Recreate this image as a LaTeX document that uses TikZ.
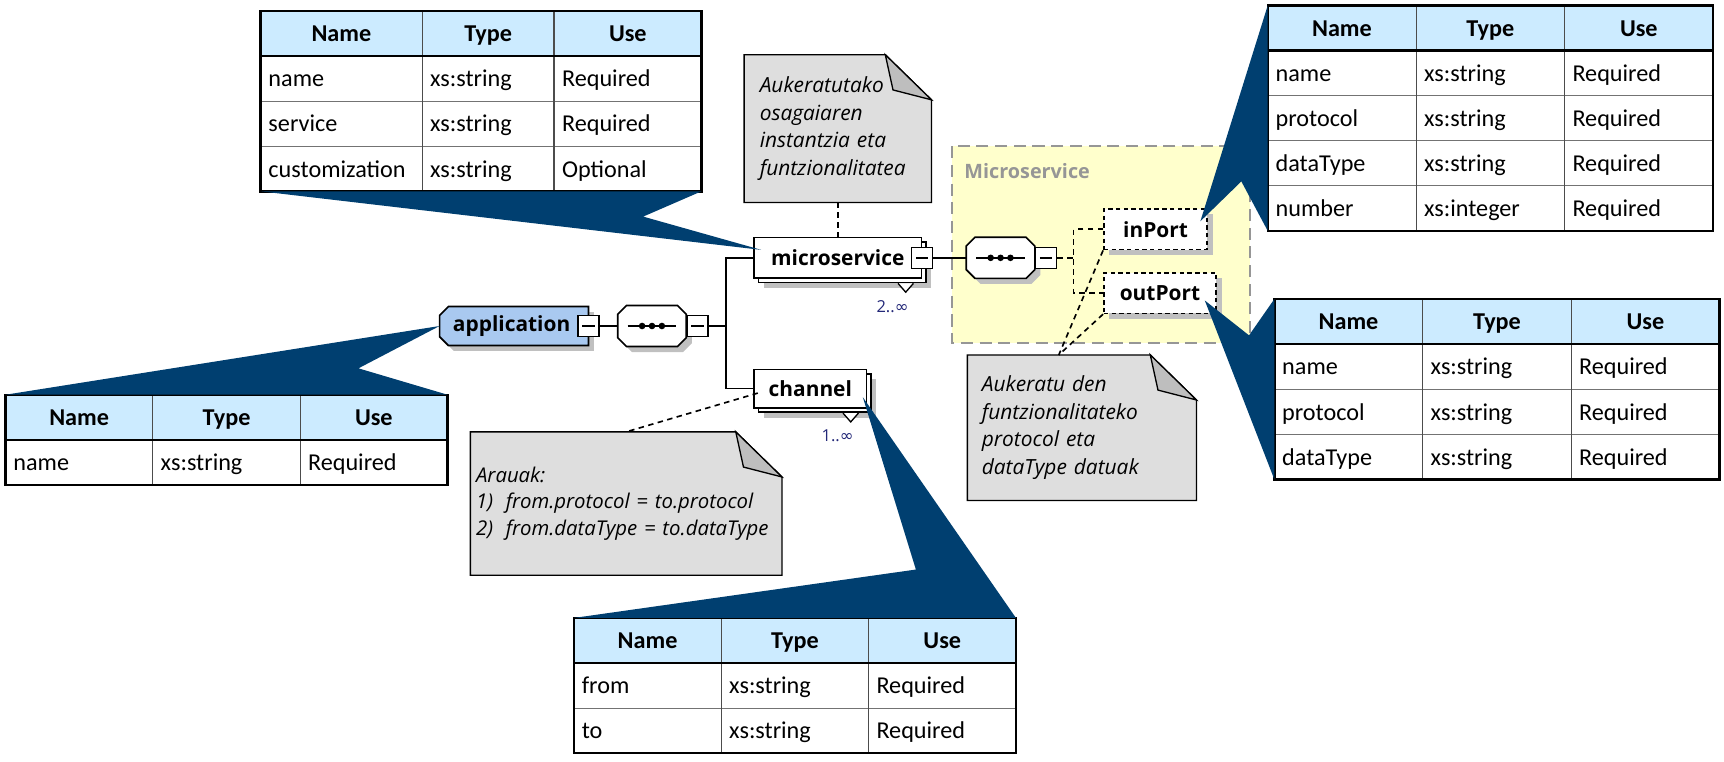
\documentclass[tikz,border=0pt]{standalone}
\usepackage{fontspec}
\setmainfont{Carlito}
\newfontfamily\xsdfont{Open Sans}
\newfontfamily\symfont{DejaVu Sans}
\usetikzlibrary{shadows,backgrounds}

\definecolor{calloutblue}{RGB}{0,63,112}
\definecolor{headblue}{RGB}{204,235,255}
\definecolor{appblue}{RGB}{169,201,240}
\definecolor{notegray}{RGB}{222,222,222}
\definecolor{foldgray}{RGB}{190,190,190}
\definecolor{groupyellow}{RGB}{255,255,204}
\definecolor{groupgray}{RGB}{150,150,150}
\definecolor{shadowgray}{RGB}{192,192,192}
\definecolor{occblue}{RGB}{35,40,120}

% outlines round a named node
\newcommand\octpath[1]{([xshift=8pt]#1.north west) -- ([xshift=-8pt]#1.north east)
  -- ([yshift=-8pt]#1.north east) -- ([yshift=8pt]#1.south east) -- ([xshift=-8pt]#1.south east)
  -- ([xshift=8pt]#1.south west) -- ([yshift=8pt]#1.south west) -- ([yshift=-8pt]#1.north west) -- cycle}
\newcommand\leftchamfpath[1]{([xshift=8pt]#1.north west) -- (#1.north east) -- (#1.south east)
  -- ([xshift=8pt]#1.south west) -- ([yshift=8pt]#1.south west) -- ([yshift=-8pt]#1.north west) -- cycle}

% attribute table: id, left, top, rows, w1, w2, w3, body
\newcommand\attrtable[8]{%
  \pgfmathsetmacro\tabxa{#2+#5}
  \pgfmathsetmacro\tabxb{#2+#5+#6}
  \pgfmathsetmacro\tabxc{#2+#5+#6+#7}
  \pgfmathsetmacro\tabyb{#3+41*(#4+1)}
  \fill[headblue] (#2,#3) rectangle (\tabxc,#3+41);
  \node[headcell] (#1-name) at ({#2+#5/2},#3+28) {Name};
  \node[headcell] (#1-type) at ({\tabxa+#6/2},#3+28) {Type};
  \node[headcell] (#1-use) at ({\tabxb+#7/2},#3+28) {Use};
  \foreach \nm/\ty/\us [count=\r] in {#8}{
    \node[cell] (#1-\r-1) at (#2+7,#3+28+41*\r) {\nm};
    \node[cell] (#1-\r-2) at (\tabxa+7,#3+28+41*\r) {\ty};
    \node[cell] (#1-\r-3) at (\tabxb+7,#3+28+41*\r) {\us};
  }
  \foreach \r in {2,...,#4}{\draw[rowline] (#2,#3+41*\r) -- (\tabxc,#3+41*\r);}
  \draw[colline] (\tabxa,#3) -- (\tabxa,\tabyb);
  \draw[colline] (\tabxb,#3) -- (\tabxb,\tabyb);
  \draw[headline] (#2,#3+41) -- (\tabxc,#3+41);
  \draw[tabframe] (#2,#3) rectangle (\tabxc,\tabyb);
  \coordinate (#1-nw) at (#2,#3);
  \coordinate (#1-ne) at (\tabxc,#3);
  \coordinate (#1-sw) at (#2,\tabyb);
  \coordinate (#1-se) at (\tabxc,\tabyb);
}

\begin{document}
\begin{tikzpicture}[x=1pt,y=-1pt]
\tikzstyle{xsdlabel}=[inner sep=0pt, minimum height=37pt,
                      font=\xsdfont\bfseries\fontsize{19}{22}\selectfont]
\tikzstyle{xsdbox}=[xsdlabel, draw, line width=1.5pt, fill=white]
\tikzstyle{elemshape}=[draw, line width=1.5pt, fill=white, drop shadow={shadow xshift=5pt,
                       shadow yshift=-5pt, fill=shadowgray, draw=none, opacity=1}]
\tikzstyle{elem}=[xsdbox, drop shadow={shadow xshift=5pt, shadow yshift=-5pt,
                  fill=shadowgray, draw=none, opacity=1}]
\tikzstyle{multi}=[xsdbox, drop shadow={shadow xshift=9pt, shadow yshift=-9pt,
                   fill=shadowgray, draw=none, opacity=1},
                   general shadow={shadow xshift=4pt, shadow yshift=-4pt,
                   fill=white, draw=black, line width=1.5pt}]
\tikzstyle{port}=[elem, dash pattern=on 4pt off 3pt]
\tikzstyle{minusbox}=[draw, fill=white, line width=1.3pt, minimum size=19pt, inner sep=0pt,
                      path picture={\draw[line width=1.3pt] ([xshift=4pt]path picture bounding box.west)
                        -- ([xshift=-4pt]path picture bounding box.east);}]
\tikzstyle{conn}=[line width=1.5pt]
\tikzstyle{dashconn}=[line width=1.5pt, dash pattern=on 5pt off 4pt]
\tikzstyle{occ}=[font=\xsdfont\fontsize{15}{17}\selectfont, text=occblue, inner sep=0pt]
\tikzstyle{occmark}=[fill=white, draw, line width=1.2pt]
\tikzstyle{note}=[inner xsep=14pt, inner ysep=0pt, align=left,
                  font=\xsdfont\itshape\fontsize{19}{25}\selectfont]
\tikzstyle{notepath}=[fill=notegray, draw, line width=1.2pt]
\tikzstyle{foldpath}=[fill=foldgray, draw, line width=1.2pt]
\tikzstyle{callout}=[fill=calloutblue]
\tikzstyle{headcell}=[font=\bfseries\fontsize{22}{26}\selectfont, inner sep=0pt, anchor=base]
\tikzstyle{cell}=[font=\fontsize{22}{26}\selectfont, inner sep=0pt, anchor=base west]
\tikzstyle{rowline}=[draw=black!55, line width=1pt]
\tikzstyle{colline}=[draw=black!70, line width=1.2pt]
\tikzstyle{headline}=[draw=black, line width=2pt]
\tikzstyle{tabframe}=[draw=black, line width=2.2pt]
\useasboundingbox (0,0) rectangle (1568,693);

% schema tree
\node[xsdlabel, minimum width=135pt, minimum height=35pt, inner xsep=12pt,
      text width=111pt, align=left] (app) at (467.5,296.5) {application};
\node[minusbox] (appm) at (app.east) {};
\node[xsdlabel, minimum width=62pt] (seq1) at (593,296.5) {};
\node[minusbox, anchor=west] (seq1m) at (seq1.east) {};
\node[multi, minimum width=152pt] (ms) at (762,234.5) {microservice};
\node[minusbox] (msm) at (ms.east) {};
\node[multi, minimum width=102pt, minimum height=35pt] (ch) at (737,353.5) {channel};
\node[xsdlabel, minimum width=62pt] (seq2) at (910,234.5) {};
\node[minusbox, anchor=west] (seq2m) at (seq2.east) {};
\node[port, minimum width=94pt] (inport) at (1051,208.5) {inPort};
\node[port, minimum width=102pt] (outport) at (1055,266.5) {outPort};
\node[font=\xsdfont\bfseries\fontsize{18}{21}\selectfont, text=groupgray, inner sep=0pt,
      anchor=base west] (grplabel) at (877,162) {Microservice};

% occurrences
\draw[occmark] ([shift={(-22,4)}]ms.south east) -- ++(7,8) -- ++(7,-8);
\draw[occmark] ([shift={(-22,4)}]ch.south east) -- ++(7,8) -- ++(7,-8);
\node[occ] (msocc) at ([shift={(-27,25)}]ms.south east) {2..{\symfont ∞}};
\node[occ] (chocc) at ([shift={(-27,25)}]ch.south east) {1..{\symfont ∞}};

% connectors
\draw[conn] (appm) -- (seq1);
\draw[conn] (seq1m.east) -- ++(16,0) coordinate (spine);
\draw[conn] (ms.west) -| (spine) |- (ch.west);
\draw[conn] (msm) -- (seq2);
\draw[dashconn] (seq2m.east) -- ++(15,0) coordinate (portspine);
\draw[dashconn] (inport.west) -| (portspine) |- (outport.west);

% notes
\node[note, minimum width=170pt, minimum height=134pt, text width=142pt] (note1) at (762,117)
  {Aukeratutako\\osagaiaren\\instantzia eta\\funtzionalitatea};
\node[note, inner xsep=5pt, minimum width=283pt, minimum height=130pt, text width=273pt,
      font=\xsdfont\itshape\fontsize{18.5}{24}\selectfont] (note2) at (569.5,458)
  {Arauak:\\\makebox[27pt][l]{1)}from.protocol = to.protocol\\\makebox[27pt][l]{2)}from.dataType = to.dataType};
\node[note, inner xsep=13pt, minimum width=208pt, minimum height=132pt, text width=182pt] (note3) at (984,389)
  {Aukeratu den\\funtzionalitateko\\protocol eta\\dataType datuak};
\coordinate (note3in) at ([xshift=-21pt]note3.north);
\draw[dashconn] (note1.south) -- (ms.north);
\draw[dashconn] ([shift={(4,4)}]ch.west) -- (note2.north);
\draw[dashconn] (inport.south west) -- (note3in);
\draw[dashconn] (outport.south west) -- (note3in);

\begin{scope}[on background layer]
  \fill[groupyellow] (866,133) rectangle (1137,312);
  \draw[draw=groupgray, line width=1.6pt, dash pattern=on 11pt off 6pt] (866,133) rectangle (1137,312);
  \draw[elemshape, fill=appblue] \leftchamfpath{app};
  \foreach \s in {seq1,seq2}{
    \draw[elemshape] \octpath{\s};
    \draw[line width=1.5pt] ([xshift=9pt]\s.west) -- ([xshift=-9pt]\s.east);
    \foreach \dx in {-9,0,9}{\fill ([xshift=\dx pt]\s.center) circle (3pt);}
  }
  \foreach \n in {note1,note2,note3}{
    \draw[notepath] (\n.north west) -- ([xshift=-42pt]\n.north east) -- ([yshift=-41pt]\n.north east)
      -- (\n.south east) -- (\n.south west) -- cycle;
    \draw[foldpath] ([xshift=-42pt]\n.north east) -- ([xshift=-35pt,yshift=-32pt]\n.north east)
      -- ([yshift=-41pt]\n.north east) -- cycle;
  }
\end{scope}

% attribute tables
\attrtable{msattr}{237}{10}{3}{147}{120}{134}{name/xs:string/Required, service/xs:string/Required, customization/xs:string/Optional}
\attrtable{appattr}{5}{359}{1}{134}{134}{134}{name/xs:string/Required}
\attrtable{inattr}{1153}{5}{4}{135}{135}{135}{name/xs:string/Required, protocol/xs:string/Required, dataType/xs:string/Required, number/xs:integer/Required}
\attrtable{outattr}{1159}{272}{3}{135}{135}{135}{name/xs:string/Required, protocol/xs:string/Required, dataType/xs:string/Required}
\attrtable{chattr}{522}{562}{2}{134}{134}{134}{from/xs:string/Required, to/xs:string/Required}

% callouts
\coordinate (mstip) at ([shift={(7,12)}]ms.north west);
\coordinate (msnotch) at (585,197);
\coordinate (appnotch) at (326,335);
\coordinate (intip) at ([shift={(-7,12)}]inport.north east);
\coordinate (innotch) at (1129,165);
\coordinate (outtip) at ([shift={(-11,26)}]outport.north east);
\coordinate (outnotch) at (1136,305);
\coordinate (chtip) at ([shift={(-4,26)}]ch.north east);
\coordinate (chnotch) at (833,518);
\fill[callout] (msattr-sw) -- (msattr-se) -- (msnotch) -- (mstip) -- cycle;
\fill[callout] (appattr-nw) -- (app.west) -- (appnotch) -- (appattr-ne) -- cycle;
\fill[callout] (inattr-nw) -- (intip) -- (innotch) -- (inattr-sw) -- cycle;
\fill[callout] (outtip) -- (outnotch) -- (outattr-nw) -- (outattr-sw) -- cycle;
\fill[callout] (chattr-nw) -- (chnotch) -- (chtip) -- (chattr-ne) -- cycle;
\end{tikzpicture}
\end{document}
